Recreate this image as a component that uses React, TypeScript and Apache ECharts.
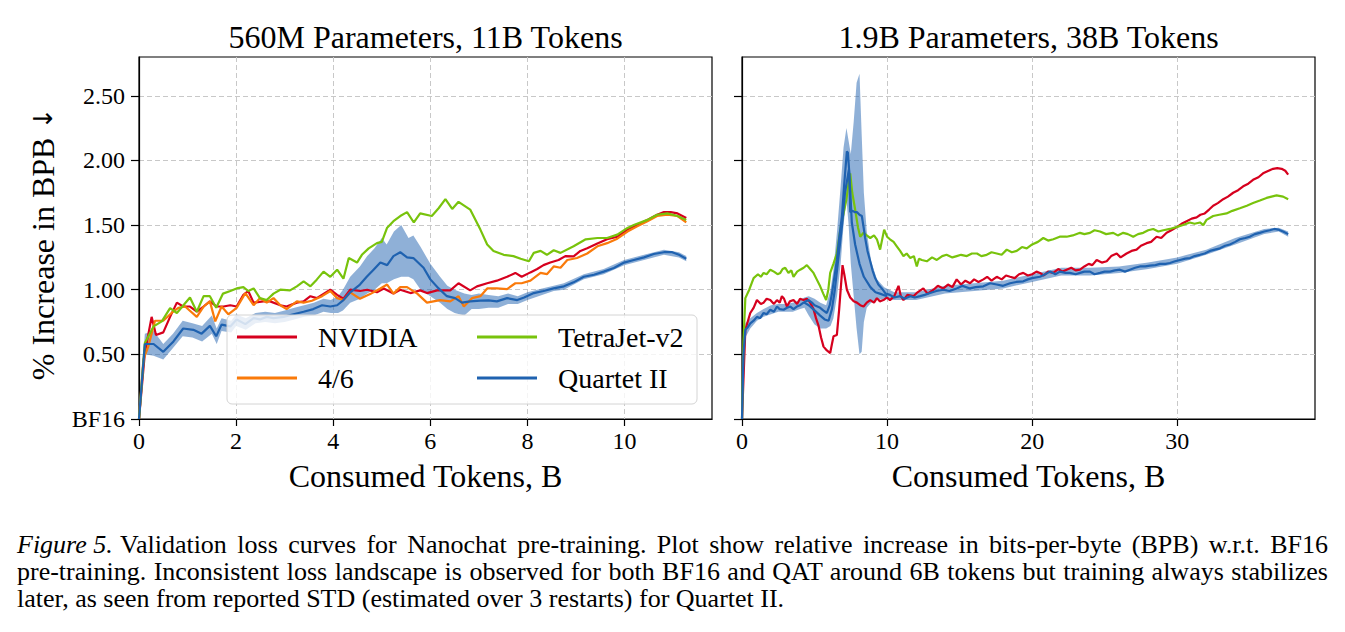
import React, { useEffect, useRef } from "react";
import * as echarts from "echarts";

// ---------- data ----------
const titles = ["560M Parameters, 11B Tokens", "1.9B Parameters, 38B Tokens"];
const xName = "Consumed Tokens, B";
const yName = "% Increase in BPB ";
const yArrow = "\u2193";
const yTicks = [0, 0.5, 1, 1.5, 2, 2.5];
const xTicksLeft = [0, 2, 4, 6, 8, 10];
const xTicksRight = [0, 10, 20, 30];
const legendLeft = ["NVIDIA", "4/6"];
const legendRight = ["TetraJet-v2", "Quartet II"];

// 560M panel
const nvidia560 = [[0,0],[0.12,0.51],[0.26,0.79],[0.35,0.65],[0.5,0.67],[0.64,0.79],[0.78,0.9],[0.91,0.87],[1.05,0.87],[1.19,0.83],[1.33,0.87],[1.46,0.91],[1.6,0.87],[1.74,0.87],[1.88,0.88],[2.01,0.87],[2.15,0.96],[2.25,0.99],[2.36,0.9],[2.56,0.91],[2.7,0.91],[2.91,0.88],[3.04,0.87],[3.25,0.9],[3.39,0.91],[3.53,0.95],[3.66,0.935],[3.94,1.0],[4.08,0.96],[4.21,0.93],[4.35,1.0],[4.55,0.99],[4.7,1.0],[4.9,0.98],[5.04,1.01],[5.24,0.97],[5.38,1.0],[5.59,0.974],[5.79,0.995],[5.93,0.974],[6.14,0.995],[6.41,0.995],[6.58,1.05],[6.82,0.995],[6.96,1.026],[7.17,1.05],[7.37,1.07],[7.58,1.1],[7.75,1.13],[7.88,1.1],[8.06,1.134],[8.2,1.16],[8.33,1.19],[8.47,1.21],[8.64,1.23],[8.78,1.26],[8.95,1.258],[9.09,1.3],[9.23,1.32],[9.44,1.357],[9.64,1.39],[9.85,1.41],[10.06,1.465],[10.26,1.5],[10.47,1.54],[10.67,1.58],[10.81,1.6],[10.95,1.6],[11.09,1.59],[11.27,1.555]];
const fourSix560 = [[0,0],[0.09,0.46],[0.19,0.56],[0.33,0.76],[0.5,0.76],[0.67,0.82],[0.81,0.86],[0.95,0.87],[1.19,0.79],[1.33,0.87],[1.46,0.91],[1.57,0.755],[1.7,0.87],[1.84,0.81],[2.01,0.86],[2.19,0.974],[2.36,0.88],[2.49,0.935],[2.63,0.9],[2.77,0.935],[2.91,0.88],[3.04,0.85],[3.25,0.91],[3.39,0.9],[3.56,0.915],[3.77,0.95],[3.94,0.99],[4.08,0.935],[4.21,0.92],[4.35,0.98],[4.55,0.93],[4.76,0.966],[4.97,1.01],[5.11,1.04],[5.24,0.97],[5.38,1.02],[5.52,1.02],[5.73,0.97],[5.93,0.9],[6.2,0.92],[6.41,0.91],[6.58,0.95],[6.69,0.87],[6.86,0.935],[7.03,0.95],[7.17,1.01],[7.37,1.01],[7.58,1.005],[7.75,1.05],[7.88,1.05],[8.06,1.07],[8.27,1.13],[8.4,1.12],[8.54,1.18],[8.68,1.17],[8.82,1.23],[9.02,1.245],[9.23,1.28],[9.44,1.336],[9.64,1.36],[9.85,1.395],[10.06,1.45],[10.26,1.49],[10.47,1.53],[10.67,1.57],[10.88,1.58],[11.09,1.57],[11.27,1.52]];
const tetra560 = [[0,0],[0.12,0.587],[0.3,0.716],[0.47,0.755],[0.64,0.858],[0.78,0.82],[1.05,0.94],[1.19,0.83],[1.33,0.95],[1.46,0.95],[1.59,0.86],[1.73,0.97],[1.88,0.99],[2.01,1.01],[2.15,1.02],[2.25,0.99],[2.36,1.01],[2.49,0.935],[2.63,0.92],[2.77,0.97],[2.91,1.0],[3.11,0.995],[3.25,1.026],[3.39,1.065],[3.53,1.026],[3.66,1.078],[3.8,1.14],[3.94,1.1],[4.08,1.155],[4.21,1.085],[4.32,1.245],[4.49,1.21],[4.59,1.27],[4.73,1.32],[4.9,1.36],[5.0,1.37],[5.11,1.48],[5.24,1.53],[5.38,1.57],[5.52,1.6],[5.66,1.52],[5.79,1.59],[6.03,1.57],[6.17,1.63],[6.31,1.7],[6.45,1.625],[6.58,1.68],[6.82,1.62],[7.03,1.465],[7.17,1.35],[7.3,1.3],[7.51,1.27],[7.71,1.26],[7.86,1.24],[8.03,1.22],[8.13,1.285],[8.27,1.3],[8.4,1.27],[8.54,1.305],[8.68,1.285],[8.95,1.336],[9.2,1.39],[9.44,1.4],[9.64,1.4],[9.85,1.426],[10.06,1.478],[10.19,1.5],[10.47,1.54],[10.67,1.58],[10.88,1.59],[11.09,1.57],[11.27,1.54]];
const quartet560 = [[0,0],[0.12,0.58],[0.3,0.58],[0.5,0.52],[0.71,0.6],[0.91,0.7],[1.12,0.69],[1.29,0.66],[1.46,0.72],[1.59,0.64],[1.7,0.73],[1.88,0.716],[2.01,0.77],[2.19,0.734],[2.36,0.78],[2.49,0.77],[2.63,0.79],[2.77,0.78],[2.98,0.79],[3.18,0.81],[3.39,0.83],[3.59,0.85],[3.77,0.88],[3.94,0.87],[4.08,0.88],[4.21,0.92],[4.35,0.98],[4.55,1.04],[4.69,1.1],[4.83,1.155],[4.97,1.21],[5.11,1.19],[5.24,1.26],[5.38,1.29],[5.52,1.25],[5.65,1.245],[5.86,1.17],[6.0,1.08],[6.17,1.01],[6.34,0.95],[6.51,0.935],[6.65,0.9],[6.82,0.91],[7.03,0.915],[7.2,0.917],[7.37,0.91],[7.58,0.935],[7.79,0.92],[7.93,0.94],[8.13,0.974],[8.33,0.99],[8.54,1.01],[8.75,1.026],[8.95,1.057],[9.16,1.1],[9.37,1.116],[9.57,1.14],[9.78,1.168],[9.99,1.21],[10.19,1.23],[10.4,1.25],[10.6,1.276],[10.81,1.29],[10.98,1.29],[11.12,1.27],[11.27,1.24]];
// [x, lower, upper] of Quartet II std band
const quartetBand560 = [[0,0,0],[0.12,0.5,0.66],[0.3,0.49,0.68],[0.5,0.46,0.58],[0.7,0.55,0.66],[0.9,0.64,0.76],[1.1,0.63,0.74],[1.3,0.6,0.72],[1.5,0.66,0.8],[1.6,0.58,0.7],[1.7,0.68,0.78],[1.9,0.67,0.76],[2.0,0.72,0.81],[2.2,0.69,0.78],[2.4,0.74,0.82],[2.6,0.75,0.83],[2.8,0.74,0.82],[3.0,0.75,0.84],[3.2,0.77,0.86],[3.4,0.79,0.88],[3.6,0.8,0.9],[3.8,0.83,0.93],[3.95,0.82,0.92],[4.1,0.82,0.95],[4.2,0.84,1.0],[4.35,0.9,1.1],[4.55,0.93,1.18],[4.7,0.97,1.26],[4.85,1.0,1.32],[5.0,1.05,1.4],[5.1,1.05,1.35],[5.25,1.08,1.45],[5.4,1.1,1.5],[5.55,1.1,1.4],[5.65,1.08,1.42],[5.8,1.0,1.33],[6.0,0.95,1.2],[6.2,0.9,1.1],[6.35,0.85,1.03],[6.5,0.82,1.0],[6.7,0.8,0.97],[6.85,0.85,0.96],[7.0,0.85,0.97],[7.2,0.86,0.96],[7.4,0.86,0.95],[7.6,0.89,0.97],[7.8,0.89,0.95],[8.0,0.92,0.98],[8.3,0.96,1.01],[8.54,0.99,1.03],[8.75,1.0,1.05],[9.16,1.08,1.12],[9.57,1.12,1.16],[9.99,1.19,1.23],[10.4,1.23,1.27],[10.81,1.27,1.31],[11.12,1.25,1.29],[11.27,1.22,1.26]];

// 1.9B panel
const nvidia19 = [[0,0],[0.23,0.69],[0.57,0.82],[0.8,0.86],[1.03,0.92],[1.3,0.89],[1.49,0.9],[1.7,0.93],[1.95,0.92],[2.2,0.89],[2.41,0.92],[2.6,0.9],[2.75,0.95],[2.9,0.93],[3.1,0.87],[3.3,0.91],[3.55,0.92],[3.8,0.89],[4.0,0.93],[4.24,0.92],[4.47,0.93],[4.7,0.9],[4.93,0.85],[5.1,0.78],[5.28,0.72],[5.45,0.63],[5.62,0.56],[5.85,0.53],[6.08,0.51],[6.2,0.58],[6.31,0.64],[6.54,0.65],[6.7,0.85],[6.93,1.19],[7.05,1.12],[7.23,1.0],[7.46,0.94],[7.7,0.91],[7.92,0.9],[8.15,0.88],[8.38,0.87],[8.6,0.9],[8.84,0.92],[9.1,0.9],[9.3,0.935],[9.5,0.91],[9.75,0.92],[10.0,0.94],[10.2,0.92],[10.5,0.95],[10.79,1.03],[10.95,0.95],[11.13,0.92],[11.4,0.96],[11.82,0.95],[12.1,0.98],[12.5,1.01],[12.8,0.97],[13.2,1.0],[13.5,1.03],[13.88,1.01],[14.2,1.04],[14.5,1.02],[14.8,1.08],[15.1,1.04],[15.4,1.07],[15.72,1.05],[16.0,1.08],[16.3,1.06],[16.64,1.08],[16.9,1.1],[17.2,1.07],[17.56,1.1],[17.9,1.08],[18.2,1.11],[18.48,1.1],[18.8,1.09],[19.1,1.12],[19.39,1.13],[19.7,1.11],[20.0,1.12],[20.3,1.14],[20.54,1.13],[20.8,1.11],[21.1,1.14],[21.46,1.13],[21.8,1.16],[22.1,1.14],[22.38,1.155],[22.7,1.17],[23.0,1.15],[23.3,1.155],[23.6,1.18],[23.9,1.2],[24.15,1.19],[24.45,1.23],[24.8,1.21],[25.14,1.22],[25.45,1.26],[25.83,1.28],[26.1,1.25],[26.51,1.28],[26.85,1.3],[27.2,1.31],[27.5,1.34],[27.89,1.36],[28.2,1.37],[28.58,1.41],[28.9,1.4],[29.27,1.44],[29.6,1.46],[30.0,1.486],[30.3,1.51],[30.65,1.53],[31.0,1.55],[31.34,1.56],[31.6,1.58],[31.9,1.59],[32.2,1.62],[32.48,1.65],[32.8,1.67],[33.17,1.7],[33.5,1.72],[33.86,1.75],[34.2,1.77],[34.55,1.8],[34.9,1.82],[35.23,1.85],[35.6,1.87],[35.92,1.9],[36.3,1.92],[36.61,1.935],[36.9,1.94],[37.2,1.935],[37.45,1.92],[37.65,1.89]];
const tetra19 = [[0,0],[0.1,0.6],[0.23,0.935],[0.5,1.0],[0.8,1.09],[1.1,1.12],[1.3,1.1],[1.49,1.13],[1.7,1.12],[1.95,1.155],[2.2,1.14],[2.45,1.12],[2.64,1.13],[2.8,1.16],[2.98,1.17],[3.2,1.13],[3.4,1.15],[3.55,1.1],[3.8,1.14],[4.01,1.155],[4.25,1.17],[4.47,1.19],[4.7,1.16],[4.93,1.13],[5.15,1.08],[5.39,1.026],[5.6,0.97],[5.8,0.92],[5.95,1.0],[6.08,1.13],[6.3,1.2],[6.54,1.28],[6.8,1.48],[7.0,1.59],[7.2,1.7],[7.34,1.82],[7.46,1.9],[7.6,1.75],[7.8,1.62],[8.0,1.48],[8.15,1.41],[8.38,1.44],[8.6,1.42],[8.84,1.4],[9.1,1.42],[9.3,1.39],[9.52,1.31],[9.8,1.465],[10.0,1.41],[10.2,1.39],[10.45,1.37],[10.67,1.336],[10.9,1.3],[11.13,1.26],[11.35,1.28],[11.6,1.245],[11.85,1.26],[12.05,1.18],[12.2,1.24],[12.4,1.23],[12.74,1.22],[13.1,1.25],[13.43,1.23],[13.8,1.26],[14.1,1.27],[14.5,1.25],[14.8,1.26],[15.1,1.27],[15.5,1.26],[15.85,1.28],[16.2,1.28],[16.5,1.26],[16.87,1.27],[17.2,1.29],[17.56,1.28],[17.9,1.27],[18.25,1.31],[18.6,1.29],[18.94,1.3],[19.3,1.33],[19.63,1.32],[20.0,1.35],[20.4,1.37],[20.77,1.4],[21.1,1.38],[21.46,1.39],[21.9,1.41],[22.38,1.41],[22.8,1.42],[23.3,1.44],[23.6,1.43],[23.99,1.44],[24.3,1.46],[24.68,1.45],[25.1,1.43],[25.59,1.44],[25.9,1.42],[26.28,1.44],[26.6,1.43],[26.97,1.41],[27.3,1.43],[27.66,1.44],[28.0,1.46],[28.35,1.47],[28.7,1.45],[29.04,1.46],[29.5,1.47],[30.0,1.486],[30.4,1.5],[30.87,1.52],[31.2,1.51],[31.57,1.52],[31.8,1.5],[32.02,1.54],[32.48,1.57],[32.9,1.58],[33.4,1.59],[33.8,1.61],[34.32,1.63],[34.8,1.65],[35.23,1.67],[35.7,1.69],[36.16,1.71],[36.5,1.72],[36.85,1.73],[37.3,1.72],[37.65,1.7]];
const quartet19 = [[0,0],[0.1,0.5],[0.23,0.69],[0.4,0.71],[0.57,0.74],[0.8,0.76],[1.03,0.79],[1.25,0.78],[1.49,0.82],[1.7,0.81],[1.95,0.845],[2.2,0.83],[2.41,0.87],[2.6,0.85],[2.87,0.845],[3.1,0.86],[3.33,0.87],[3.55,0.85],[3.78,0.87],[4.0,0.88],[4.24,0.9],[4.4,0.91],[4.59,0.92],[4.82,0.9],[5.0,0.88],[5.2,0.87],[5.39,0.86],[5.6,0.84],[5.85,0.82],[6.05,0.88],[6.2,0.97],[6.4,1.12],[6.54,1.23],[6.7,1.4],[6.89,1.57],[7.05,1.82],[7.23,2.07],[7.3,2.06],[7.4,1.9],[7.46,1.6],[7.6,1.61],[7.8,1.6],[7.92,1.6],[8.1,1.58],[8.26,1.57],[8.4,1.47],[8.49,1.4],[8.65,1.3],[8.84,1.22],[9.0,1.15],[9.18,1.09],[9.4,1.04],[9.64,1.01],[9.9,0.97],[10.2,0.96],[10.5,0.94],[10.9,0.95],[11.2,0.93],[11.6,0.95],[11.9,0.94],[12.28,0.95],[12.6,0.96],[12.97,0.974],[13.4,0.99],[13.88,1.0],[14.3,0.99],[14.8,1.01],[15.2,1.03],[15.72,1.01],[16.1,1.02],[16.64,1.026],[17.1,1.05],[17.56,1.04],[18.0,1.03],[18.48,1.05],[18.9,1.06],[19.39,1.065],[19.7,1.08],[20.0,1.09],[20.54,1.1],[20.9,1.12],[21.23,1.14],[21.6,1.12],[21.92,1.14],[22.3,1.13],[22.6,1.13],[23.0,1.12],[23.3,1.13],[23.6,1.14],[23.99,1.14],[24.3,1.12],[24.68,1.13],[25.0,1.14],[25.37,1.14],[25.7,1.15],[26.05,1.155],[26.4,1.14],[26.74,1.155],[27.1,1.17],[27.43,1.18],[27.8,1.18],[28.12,1.186],[28.5,1.19],[28.81,1.2],[29.2,1.2],[29.5,1.207],[29.85,1.22],[30.2,1.23],[30.55,1.24],[30.89,1.245],[31.2,1.26],[31.57,1.27],[31.9,1.28],[32.26,1.3],[32.6,1.31],[32.95,1.32],[33.3,1.34],[33.63,1.35],[34.0,1.37],[34.32,1.39],[34.7,1.4],[35.0,1.41],[35.35,1.43],[35.69,1.44],[36.0,1.45],[36.38,1.46],[36.7,1.47],[36.95,1.465],[37.3,1.45],[37.65,1.43]];
const quartet19Run = [[4.3,0.9],[4.6,0.88],[5.0,0.84],[5.39,0.8],[5.7,0.77],[5.97,0.76],[6.2,0.85],[6.4,1.0],[6.6,1.2],[6.9,1.5],[7.1,1.75],[7.37,1.93],[7.47,1.75],[7.57,1.52],[7.8,1.35],[8.1,1.2],[8.4,1.1],[8.85,1.02],[9.2,0.98],[9.5,0.97],[10.0,0.95]];
const quartetBand19 = [[0,0,0],[0.23,0.63,0.74],[0.57,0.7,0.78],[1.03,0.76,0.82],[1.49,0.79,0.85],[2.0,0.81,0.88],[2.5,0.83,0.89],[3.0,0.83,0.89],[3.5,0.83,0.9],[4.0,0.85,0.92],[4.3,0.86,0.94],[4.6,0.8,0.95],[5.0,0.73,0.93],[5.4,0.7,0.9],[5.8,0.7,0.88],[6.1,0.72,1.0],[6.3,0.78,1.15],[6.55,0.95,1.45],[6.8,1.2,1.8],[7.0,1.5,2.1],[7.2,1.7,2.25],[7.35,1.5,2.15],[7.5,1.2,2.05],[7.7,0.95,2.3],[7.9,0.7,2.6],[8.1,0.5,2.67],[8.25,0.52,2.2],[8.4,0.75,1.75],[8.6,0.86,1.45],[8.9,0.9,1.22],[9.3,0.92,1.08],[9.8,0.93,1.02],[10.5,0.92,0.98],[12.0,0.92,0.98],[14.0,0.97,1.03],[16.0,0.99,1.05],[18.0,1.01,1.07],[20.0,1.06,1.12],[22.0,1.11,1.17],[24.0,1.11,1.17],[26.0,1.13,1.18],[28.0,1.16,1.21],[30.0,1.2,1.25],[32.0,1.27,1.31],[34.0,1.35,1.4],[36.0,1.43,1.47],[37.0,1.45,1.48],[37.65,1.41,1.45]];

const captionLabel = "Figure 5.";
const captionLines = [
  "Validation loss curves for Nanochat pre-training. Plot show relative increase in bits-per-byte (BPB) w.r.t. BF16",
  "pre-training. Inconsistent loss landscape is observed for both BF16 and QAT around 6B tokens but training always stabilizes",
  "later, as seen from reported STD (estimated over 3 restarts) for Quartet II.",
];

// ---------- style ----------
const FONT = "'Liberation Serif', 'Times New Roman', serif";
const C_NV = "#d6001e";
const C_46 = "#fa7a0a";
const C_TJ = "#78c30c";
const C_Q = "#1f62b0";
const BAND = "rgba(31,98,176,0.5)";

function line(name: string, data: number[][], xi: number, color: string, z = 3) {
  return {
    type: "line",
    name,
    data,
    xAxisIndex: xi,
    yAxisIndex: xi,
    symbol: "none",
    showSymbol: false,
    silent: true,
    lineStyle: { color, width: 2.2 },
    itemStyle: { color },
    z,
  };
}

function band(data: number[][], xi: number) {
  return {
    type: "custom",
    xAxisIndex: xi,
    yAxisIndex: xi,
    silent: true,
    z: 3,
    data,
    encode: { x: 0, y: [1, 2] },
    renderItem: (params: any, api: any) => {
      if (params.dataIndex !== 0) return null;
      const top = data.map((d) => api.coord([d[0], d[2]]));
      const bot = data.map((d) => api.coord([d[0], d[1]])).reverse();
      return {
        type: "polygon",
        shape: { points: top.concat(bot) },
        style: { fill: BAND, stroke: "none" },
      };
    },
  };
}

function xAxis(gi: number, max: number, ticks: number[]) {
  return {
    type: "value",
    gridIndex: gi,
    min: 0,
    max,
    axisLine: { show: true, onZero: false, lineStyle: { color: "#000", width: 1.2 } },
    axisTick: { show: true, length: 7, customValues: ticks, lineStyle: { color: "#000", width: 1.2 } },
    axisLabel: { customValues: ticks, fontSize: 24, fontFamily: FONT, color: "#000", margin: 10 },
    splitLine: { show: true, lineStyle: { color: "#c8c8c8", type: [5, 3], width: 1 } },
  };
}

function yAxis(gi: number, labels: boolean) {
  return {
    type: "value",
    gridIndex: gi,
    min: 0,
    max: 2.8,
    axisLine: { show: true, onZero: false, lineStyle: { color: "#000", width: 1.2 } },
    axisTick: { show: true, length: 8, customValues: yTicks, lineStyle: { color: "#000", width: 1.2 } },
    axisLabel: {
      show: labels,
      customValues: yTicks,
      fontSize: 24,
      fontFamily: FONT,
      color: "#000",
      margin: 14,
      formatter: (v: number) => (v === 0 ? "BF16" : v.toFixed(2)),
    },
    splitLine: { show: true, lineStyle: { color: "#c8c8c8", type: [5, 3], width: 1 } },
  };
}

function legend(data: string[], left: number) {
  return {
    data,
    orient: "vertical",
    left,
    top: 323,
    padding: 0,
    itemWidth: 60,
    itemHeight: 3,
    itemGap: 13,
    icon: "rect",
    selectedMode: false,
    z: 20,
    textStyle: { fontSize: 28, fontFamily: FONT, color: "#000", lineHeight: 28, padding: [0, 0, 0, 16] },
  };
}

const GRID_TOP = 57;
const GRID_H = 362;
const GRID_W = 573;
const LEFT0 = 139;
const LEFT1 = 742;

const CAP_LEFT = 17;
const CAP_TOP = 531;
const CAP_W = 1311;
const CAP_LH = 27;
const CAP_FS = 26;
const LABEL_W = 103;

const capBase: React.CSSProperties = {
  position: "absolute",
  height: CAP_LH,
  lineHeight: `${CAP_LH}px`,
  whiteSpace: "nowrap",
  fontFamily: FONT,
  fontSize: CAP_FS,
  color: "#000",
  overflow: "visible",
};

export default function App() {
  const ref = useRef<HTMLDivElement>(null);
  useEffect(() => {
    document.body.style.margin = "0";
    if (!ref.current) return;
    const chart = echarts.init(ref.current, undefined, { renderer: "svg" });
    chart.setOption({
      animation: false,
      backgroundColor: "#fff",
      grid: [
        { left: LEFT0, top: GRID_TOP, width: GRID_W, height: GRID_H, show: true, borderColor: "#000", borderWidth: 1.2, backgroundColor: "transparent" },
        { left: LEFT1, top: GRID_TOP, width: GRID_W, height: GRID_H, show: true, borderColor: "#000", borderWidth: 1.2, backgroundColor: "transparent" },
      ],
      xAxis: [xAxis(0, 11.8, xTicksLeft), xAxis(1, 39.5, xTicksRight)],
      yAxis: [yAxis(0, true), yAxis(1, false)],
      legend: [legend(legendLeft, 237), legend(legendRight, 477)],
      series: [
        line("NVIDIA", nvidia560, 0, C_NV),
        line("4/6", fourSix560, 0, C_46),
        line("TetraJet-v2", tetra560, 0, C_TJ),
        band(quartetBand560, 0),
        line("Quartet II", quartet560, 0, C_Q, 4),
        line("NVIDIA", nvidia19, 1, C_NV),
        line("TetraJet-v2", tetra19, 1, C_TJ),
        band(quartetBand19, 1),
        line("Quartet II", quartet19Run, 1, C_Q, 4),
        line("Quartet II", quartet19, 1, C_Q, 4),
      ],
      graphic: [
        { type: "rect", z: 15, shape: { x: 227, y: 315, width: 470, height: 89, r: 5 }, style: { fill: "rgba(255,255,255,0.8)", stroke: "#d4d4d4", lineWidth: 1 } },
        { type: "text", x: LEFT0 + GRID_W / 2, y: 37, style: { text: titles[0], font: `32px ${FONT}`, fill: "#000", align: "center", verticalAlign: "middle" } },
        { type: "text", x: LEFT1 + GRID_W / 2, y: 37, style: { text: titles[1], font: `32px ${FONT}`, fill: "#000", align: "center", verticalAlign: "middle" } },
        { type: "text", x: LEFT0 + GRID_W / 2, y: 476, style: { text: xName, font: `32px ${FONT}`, fill: "#000", align: "center", verticalAlign: "middle" } },
        { type: "text", x: LEFT1 + GRID_W / 2, y: 476, style: { text: xName, font: `32px ${FONT}`, fill: "#000", align: "center", verticalAlign: "middle" } },
        {
          type: "text",
          x: 43,
          y: 244,
          rotation: Math.PI / 2,
          style: {
            text: `${yName}{a|${yArrow}}`,
            font: `32px ${FONT}`,
            fill: "#000",
            align: "center",
            verticalAlign: "middle",
            rich: { a: { fontFamily: "'DejaVu Sans'", fontSize: 26, fill: "#000" } },
          },
        },
      ],
    });
    return () => chart.dispose();
  }, []);

  return (
    <div style={{ position: "relative", width: 1345, height: 632, background: "#fff" }}>
      <div ref={ref} style={{ position: "absolute", left: 0, top: 0, width: 1345, height: 632 }} />
      <div style={{ ...capBase, left: CAP_LEFT, top: CAP_TOP, width: LABEL_W, fontStyle: "italic" }}>{captionLabel}</div>
      <div
        style={{
          ...capBase,
          left: CAP_LEFT + LABEL_W,
          top: CAP_TOP,
          width: CAP_W - LABEL_W,
          textAlign: "justify",
          textAlignLast: "justify",
        }}
      >
        {captionLines[0]}
      </div>
      <div
        style={{
          ...capBase,
          left: CAP_LEFT,
          top: CAP_TOP + CAP_LH,
          width: CAP_W,
          textAlign: "justify",
          textAlignLast: "justify",
        }}
      >
        {captionLines[1]}
      </div>
      <div style={{ ...capBase, left: CAP_LEFT, top: CAP_TOP + 2 * CAP_LH, width: CAP_W, textAlign: "left" }}>
        {captionLines[2]}
      </div>
    </div>
  );
}
